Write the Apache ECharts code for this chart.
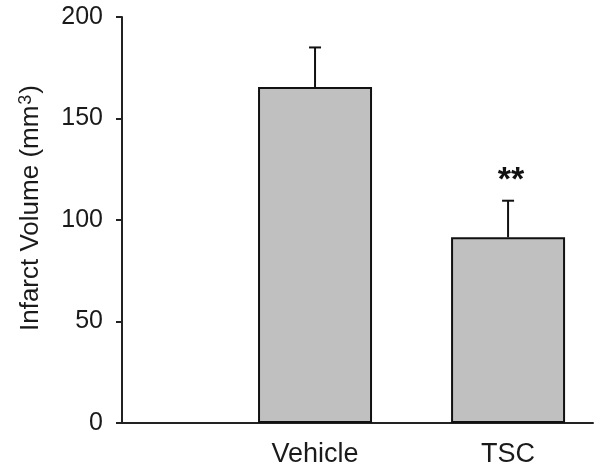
<!DOCTYPE html>
<html>
<head>
<meta charset="utf-8">
<script src="https://cdn.jsdelivr.net/npm/echarts@6/dist/echarts.min.js"></script>
<style>html,body{margin:0;padding:0;background:#fff}#c{width:601px;height:472px}</style>
</head>
<body>
<div id="c"></div>
<script>
const categories = ['Vehicle', 'TSC'];
const means = [165.5, 91.5];
const errTops = [185, 109.5];
const annotations = ['', '**'];
const yTicks = [0, 50, 100, 150, 200];

const FONT = '"Liberation Sans", Arial, sans-serif';
const chart = echarts.init(document.getElementById('c'), null, {renderer: 'canvas'});

const barData = categories.map((c, i) => [i + 1, means[i]]);
const errData = categories.map((c, i) => [i + 1, means[i], errTops[i], i]);

chart.setOption({
  animation: false,
  grid: {left: 122, right: 8, top: 17, bottom: 49},
  xAxis: {
    type: 'value', min: 0, max: 2.44, interval: 1,
    splitLine: {show: false},
    axisTick: {show: false},
    axisLine: {show: true, lineStyle: {color: '#222', width: 2}},
    axisLabel: {
      margin: 18, fontSize: 27, color: '#1a1a1a', fontFamily: FONT,
      formatter: v => (Number.isInteger(v) && v >= 1 && v <= categories.length) ? categories[v - 1] : ''
    }
  },
  yAxis: {
    type: 'value', min: yTicks[0], max: yTicks[yTicks.length - 1], interval: 50,
    splitLine: {show: false},
    axisLine: {show: true, lineStyle: {color: '#222', width: 2}},
    axisTick: {show: true, length: 6, lineStyle: {color: '#222', width: 2}},
    axisLabel: {margin: 19, fontSize: 25, color: '#1a1a1a', fontFamily: FONT}
  },
  graphic: [{
    type: 'text',
    x: 31, y: 208, rotation: Math.PI / 2,
    style: {
      text: '{a|Infarct Volume (mm}{s|3}{a|)}',
      align: 'center', verticalAlign: 'middle',
      rich: {
        a: {fontSize: 26, fontFamily: FONT, fill: '#1a1a1a', color: '#1a1a1a'},
        s: {fontSize: 18, fontFamily: FONT, fill: '#1a1a1a', color: '#1a1a1a', verticalAlign: 'top', padding: [0, 1, 10, 1]}
      },
      fill: '#1a1a1a'
    }
  }],
  series: [
    {
      type: 'bar',
      data: barData,
      barWidth: 114,
      itemStyle: {color: '#c0c0c0', borderColor: '#111', borderWidth: 2}
    },
    {
      type: 'custom',
      data: errData,
      z: 3,
      renderItem: function (params, api) {
        const x = api.value(0);
        const base = api.coord([x, api.value(1)]);
        const top = api.coord([x, api.value(2)]);
        const idx = api.value(3);
        const children = [
          {type: 'line', shape: {x1: base[0], y1: base[1], x2: top[0], y2: top[1]}, style: {stroke: '#111', lineWidth: 2}},
          {type: 'line', shape: {x1: top[0] - 6, y1: top[1], x2: top[0] + 6, y2: top[1]}, style: {stroke: '#111', lineWidth: 2}}
        ];
        if (annotations[idx]) {
          children.push({type: 'text', x: top[0] + 3, y: top[1] - 20, style: {
            text: annotations[idx], fontSize: 34, fontWeight: 'bold', fontFamily: FONT,
            fill: '#111', align: 'center', verticalAlign: 'middle'}});
        }
        return {type: 'group', children: children};
      }
    }
  ]
});
</script>
</body>
</html>
